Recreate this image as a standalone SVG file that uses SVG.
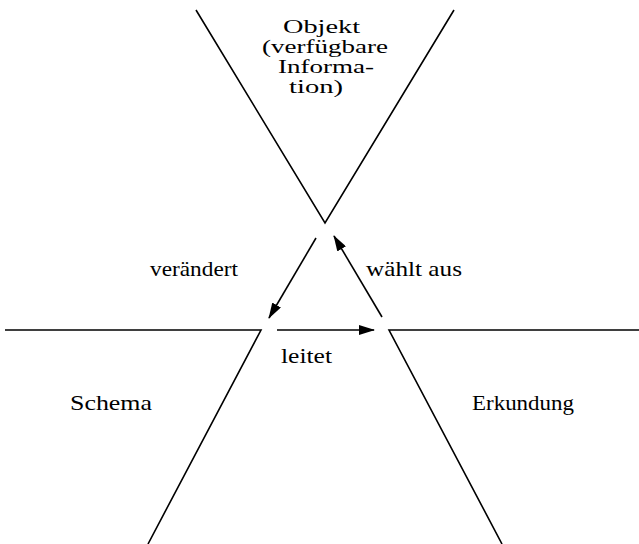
<svg xmlns="http://www.w3.org/2000/svg" width="639" height="544" viewBox="0 0 639 544">
<style>
.l{fill:none;stroke:#000;stroke-width:1.6;stroke-linejoin:miter}
.t{font-size:21px;fill:#000}
.o{font-size:18.5px}
</style>
<defs>
<marker id="ah" markerUnits="userSpaceOnUse" markerWidth="16" markerHeight="10" refX="15" refY="5" orient="auto">
<path d="M0,0 L16,5 L0,10 Z" fill="#000"/>
</marker>
</defs>
<rect width="639" height="544" fill="#fff"/>
<g font-family="Liberation Serif, DejaVu Serif, serif">
<g id="objekt">
<polyline class="l" points="196,10 325,223 454,10"/>
<text class="t o" x="283" y="33" textLength="77" lengthAdjust="spacingAndGlyphs">Objekt</text>
<text class="t o" x="262" y="53" textLength="126" lengthAdjust="spacingAndGlyphs">(verfügbare</text>
<text class="t o" x="278" y="73" textLength="96" lengthAdjust="spacingAndGlyphs">Informa-</text>
<text class="t o" x="289" y="93" textLength="54" lengthAdjust="spacingAndGlyphs">tion)</text>
</g>
<g id="schema">
<polyline class="l" points="5,330 261,330 148,544"/>
<text class="t" x="70" y="410" textLength="82" lengthAdjust="spacingAndGlyphs">Schema</text>
</g>
<g id="erkundung">
<polyline class="l" points="639,330 389,330 502,544"/>
<text class="t" x="472" y="410" textLength="102" lengthAdjust="spacingAndGlyphs">Erkundung</text>
</g>
<g id="connectors">
<line class="l" x1="316" y1="238" x2="269" y2="318" marker-end="url(#ah)"/>
<line class="l" x1="382" y1="317" x2="334" y2="236" marker-end="url(#ah)"/>
<line class="l" x1="277" y1="330" x2="374" y2="330" marker-end="url(#ah)"/>
<text class="t" x="150" y="276" textLength="88" lengthAdjust="spacingAndGlyphs">verändert</text>
<text class="t" x="366" y="276" textLength="96" lengthAdjust="spacingAndGlyphs">wählt aus</text>
<text class="t" x="281" y="363" textLength="51" lengthAdjust="spacingAndGlyphs">leitet</text>
</g>
</g>
</svg>
